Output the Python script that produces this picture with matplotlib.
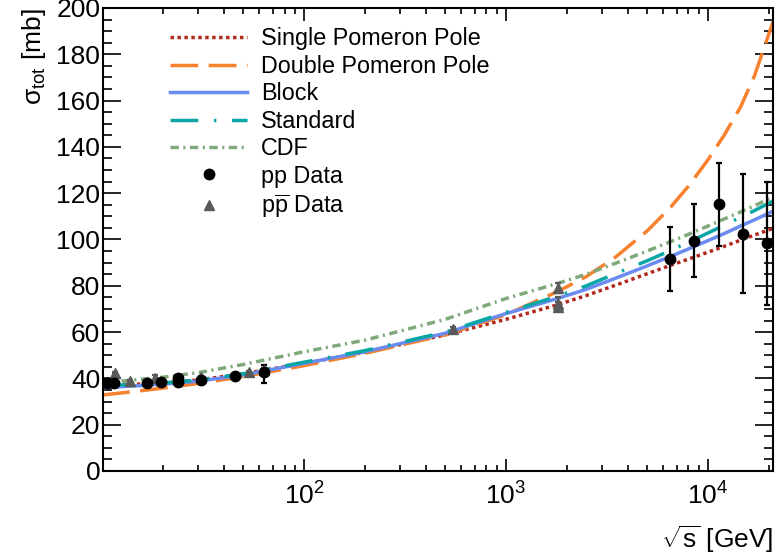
import numpy as np
import matplotlib
matplotlib.use('Agg')
import matplotlib.pyplot as plt
from matplotlib.ticker import FixedLocator, LogLocator, MultipleLocator, NullFormatter

plt.rcParams['font.family'] = ['Liberation Sans', 'DejaVu Sans']
plt.rcParams['mathtext.fontset'] = 'custom'
plt.rcParams['mathtext.rm'] = 'Liberation Sans'
plt.rcParams['mathtext.it'] = 'Liberation Sans:italic'
plt.rcParams['mathtext.default'] = 'regular'

# model curves at these energies [GeV]
energy = [10, 15, 20, 30, 50, 100, 200, 500, 1000, 1800, 2500, 3500, 5000, 6500, 8000,
          10000, 12000, 14500, 17000, 21000]
single_pole = [37.5, 37.5, 38.2, 39.3, 42.0, 46.5, 51.3, 58.8, 65.5, 71.8, 75.8, 80.3, 85.2,
               88.8, 91.5, 94.5, 97.0, 99.7, 101.9, 104.8]
double_pole = [32.8, 34.5, 35.8, 37.8, 40.8, 45.5, 50.8, 58.8, 67.5, 77.5, 84.0, 92.5, 103.7,
               113.7, 123.0, 134.4, 144.9, 157.2, 170.7, 194.0]
block = [36.0, 36.8, 37.5, 38.8, 41.5, 46.5, 51.5, 59.5, 68.0, 74.5, 78.5, 83.3, 88.6,
         92.6, 95.9, 99.5, 102.5, 105.8, 108.5, 112.2]
standard = [37.0, 37.3, 38.0, 39.3, 42.0, 47.0, 52.0, 60.0, 68.5, 75.5, 80.0, 85.3, 90.8,
            95.2, 98.8, 102.8, 106.1, 109.6, 112.5, 116.6]
cdf = [38.0, 39.5, 40.5, 42.5, 46.0, 51.5, 56.5, 65.5, 74.5, 81.0, 85.0, 89.8, 95.0,
       99.0, 102.2, 105.8, 108.8, 111.9, 114.6, 118.3]

# pp data
pp_e = [10.6, 11.5, 16.7, 19.6, 23.7, 23.7, 30.8, 45.4, 63.4, 6470, 8510, 11300, 14900, 19700]
pp_sig = [37.9, 37.9, 37.9, 38.3, 38.3, 40.0, 39.3, 41.0, 42.9, 91.6, 99.5, 115.3, 102.4, 98.4]
pp_err_lo = [0.3, 0.3, 0.4, 0.4, 0.3, 0.3, 0.3, 0.3, 5.0, 13.7, 15.8, 18.1, 25.6, 26.7]
pp_err_hi = [0.3, 0.3, 0.4, 0.4, 0.3, 0.3, 0.3, 0.3, 3.0, 13.9, 16.0, 17.9, 25.8, 26.6]

# ppbar data
pbar_e = [11.6, 13.7, 18.3, 30.8, 53.2, 63.4, 546, 1800, 1800, 1800]
pbar_sig = [42.2, 39.0, 40.0, 40.5, 42.6, 43.5, 61.3, 79.0, 72.0, 71.0]
pbar_err = [0.5, 0.4, 1.6, 0.5, 0.4, 1.0, 0.8, 2.2, 3.0, 2.0]

fig = plt.figure(figsize=(7.78, 5.55), dpi=100)
ax = fig.add_axes([0.1324, 0.1514, 0.8612, 0.8342])

ax.plot(energy, single_pole, color='#b22a1e', lw=2.5, ls=(0, (1, 1)), label='Single Pomeron Pole')
ax.plot(energy, double_pole, color='#f7812d', lw=2.5, ls=(0, (8, 3)), label='Double Pomeron Pole')
ax.plot(energy, block, color='#6a8bef', lw=2.5, ls='-', label='Block')
ax.plot(energy, standard, color='#0aa5a5', lw=2.5, ls=(0, (8, 4.5, 0.7, 4.5)), label='Standard')
ax.plot(energy, cdf, color='#7fa87b', lw=2.5, ls=(0, (2.4, 1.3, 0.6, 1.3)), label='CDF')

# error bars first, markers on top (markers only in the legend)
ax.errorbar(pp_e, pp_sig, yerr=[pp_err_lo, pp_err_hi], fmt='none', ecolor='black',
            elinewidth=1.6, capsize=2.5, capthick=1.6, zorder=5)
ax.errorbar(pbar_e, pbar_sig, yerr=pbar_err, fmt='none', ecolor='#5a5a5a',
            elinewidth=1.6, capsize=2.5, capthick=1.6, zorder=4)
ax.plot(pp_e, pp_sig, 'o', color='black', ms=7.5, ls='none', label='pp Data', zorder=6)
ax.plot(pbar_e, pbar_sig, '^', color='#5a5a5a', ms=7.5, ls='none',
        label=r'p$\overline{\mathrm{p}}$ Data', zorder=5)

ax.set_xscale('log')
ax.set_xlim(10.1, 2.1e4)
ax.set_ylim(0, 200)
ax.xaxis.set_major_locator(FixedLocator([1e2, 1e3, 1e4]))
ax.xaxis.set_minor_locator(LogLocator(base=10, subs=np.arange(2, 10), numticks=20))
ax.xaxis.set_minor_formatter(NullFormatter())
ax.yaxis.set_major_locator(MultipleLocator(20))
ax.yaxis.set_minor_locator(MultipleLocator(5))

ax.tick_params(which='both', direction='in', top=True, right=True, labelsize=19, width=1.2)
ax.tick_params(axis='x', which='major', length=9, pad=8)
ax.tick_params(axis='x', which='minor', length=4.5)
ax.tick_params(axis='y', which='major', length=13, pad=2)
ax.tick_params(axis='y', which='minor', length=6.5)
for sp in ax.spines.values():
    sp.set_linewidth(1.5)

ax.set_xlabel(r'$\sqrt{s}$ [GeV]', fontsize=19, loc='right', labelpad=10)
ax.set_ylabel(r'$\sigma_{tot}$ [mb]', fontsize=19, loc='top', labelpad=6)

ax.legend(loc='upper left', bbox_to_anchor=(0.1, 0.958), frameon=False, fontsize=16.8,
          handlelength=3.3, handletextpad=0.6, labelspacing=0.19, borderpad=0,
          borderaxespad=0, numpoints=1)

plt.savefig('out.png', dpi=100)
